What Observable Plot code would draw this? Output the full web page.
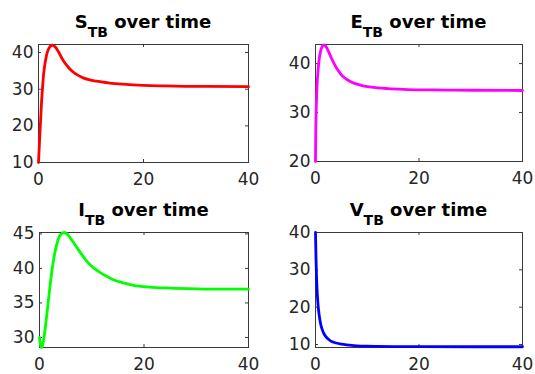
<!DOCTYPE html>
<html><head><meta charset="utf-8">
<script src="https://cdn.jsdelivr.net/npm/d3@7"></script>
<script src="https://cdn.jsdelivr.net/npm/@observablehq/plot@0.6"></script>
<style>
html,body{margin:0;padding:0;background:#fff;}
#chart{position:relative;width:535px;height:374px;overflow:hidden;background:#fff;}
#chart svg{position:absolute;}
</style></head><body><div id="chart"></div>
<script>
// ---- data ----
const sTime  = [0,0.2,0.4,0.6,0.8,1.0,1.3,1.6,2.0,2.6,3.2,3.8,4.4,5.0,5.8,6.6,7.4,8.5,9.6,11,12.5,14,16,18,20,24,28,32,40];
const sValue = [10,16,21.5,27,31,34.5,37.5,39.7,41.2,42.0,41.5,40.2,38.6,37.2,35.8,34.7,33.9,33.1,32.6,32.2,31.9,31.6,31.4,31.2,31.05,30.9,30.8,30.75,30.7];

const eTime  = [0,0.05,0.15,0.3,0.5,0.75,1.0,1.3,1.6,2.0,2.5,3.0,3.5,4.0,4.5,5.0,5.5,6.0,7.0,8.0,9.0,10,12,14,17,20,25,30,40];
const eValue = [20,26,31,35.5,38.7,41.2,42.6,43.5,43.8,43.5,42.5,41.3,40.2,39.2,38.4,37.7,37.2,36.8,36.2,35.8,35.5,35.3,35.05,34.9,34.75,34.65,34.6,34.55,34.5];

const iTime  = [0,0.2,0.4,0.6,0.9,1.2,1.5,1.8,2.1,2.5,3.0,3.5,4.0,4.7,5.4,6.0,7.0,8.0,9.0,10,11,12.5,14,16,18,21,25,30,35,40];
const iValue = [30,28.9,28.55,28.9,30.2,32.0,34.0,36.0,38.0,40.3,42.5,44.0,44.9,45.2,44.9,44.3,43.2,42.1,41.1,40.3,39.7,39.0,38.4,37.9,37.55,37.3,37.15,37.05,37.0,37.0];

const vTime  = [0,0.1,0.2,0.35,0.5,0.7,1.0,1.3,1.6,2.0,2.5,3.0,4.0,5.0,6.0,7.0,8.0,10,12,15,20,30,40];
const vValue = [40,33,28,23.5,20.5,18,15.5,14,13,12.1,11.4,10.9,10.4,10.1,9.9,9.75,9.65,9.55,9.5,9.45,9.42,9.4,9.4];

const seriesNames  = ["S","E","I","V"];
const seriesColors = ["#ff0000","#ff00ff","#00ff00","#0000ff"];
const xLimits = [0,40];
const xTickValues = [0,20,40];
const sLimits = [10,42.2], eLimits = [20,43.9], iLimits = [28.55,45.2], vLimits = [9.2,40];
const sTicks = [10,20,30,40], eTicks = [20,30,40], iTicks = [30,35,40,45], vTicks = [10,20,30,40];

// ---- layout ----
const layouts = [
  {left:0,   top:0,   width:267, height:187, mt:44, mr:19, mb:25, ml:38},
  {left:267, top:0,   width:268, height:187, mt:44, mr:13, mb:26, ml:48},
  {left:0,   top:187, width:267, height:187, mt:45, mr:19, mb:27, ml:39},
  {left:267, top:187, width:268, height:187, mt:45, mr:13, mb:27, ml:48}
];
const seriesData = [[sTime,sValue],[eTime,eValue],[iTime,iValue],[vTime,vValue]];
const limits = [sLimits,eLimits,iLimits,vLimits];
const yTickSets = [sTicks,eTicks,iTicks,vTicks];

const axisColor = "#3a3a3a";
const tickLen = 3;
const chart = document.getElementById("chart");

seriesNames.forEach((name, k) => {
  const L = layouts[k];
  const [T, V] = seriesData[k];
  const rows = T.map((t, j) => ({t, v: V[j]}));
  const fw = L.width - L.ml - L.mr, fh = L.height - L.mt - L.mb;
  const svg = Plot.plot({
    width: L.width, height: L.height,
    marginTop: L.mt, marginRight: L.mr, marginBottom: L.mb, marginLeft: L.ml,
    style: {fontFamily: "DejaVu Sans", fontSize: "17px", color: "#262626", background: "transparent", overflow: "visible"},
    x: {domain: xLimits},
    y: {domain: limits[k]},
    marks: [
      Plot.frame({stroke: axisColor, strokeWidth: 1}),
      Plot.tickX(xTickValues, {x: d => d, stroke: axisColor, insetTop: fh - tickLen}),
      Plot.tickX(xTickValues, {x: d => d, stroke: axisColor, insetBottom: fh - tickLen}),
      Plot.tickY(yTickSets[k], {y: d => d, stroke: axisColor, insetRight: fw - tickLen}),
      Plot.tickY(yTickSets[k], {y: d => d, stroke: axisColor, insetLeft: fw - tickLen}),
      Plot.axisX({ticks: xTickValues, tickSize: 0, tickPadding: 10, label: null, fill: "#262626"}),
      Plot.axisY({ticks: yTickSets[k], tickSize: 0, tickPadding: 5, label: null, fill: "#262626"}),
      Plot.line(rows, {x: "t", y: "v", stroke: seriesColors[k], strokeWidth: 2.8, curve: "monotone-x"})
    ]
  });
  svg.style.left = L.left + "px";
  svg.style.top = L.top + "px";
  const title = d3.select(svg).append("text")
    .attr("x", L.ml + fw / 2).attr("y", L.mt - 16.5)
    .attr("text-anchor", "middle")
    .attr("font-family", "DejaVu Sans").attr("font-weight", "bold").attr("font-size", 18)
    .attr("fill", "#000").style("white-space", "pre");
  title.append("tspan").text(name);
  title.append("tspan").attr("dy", 9).attr("font-size", 14).text("TB");
  title.append("tspan").attr("dy", -9).text(" over time");
  chart.appendChild(svg);
});
</script></body></html>
